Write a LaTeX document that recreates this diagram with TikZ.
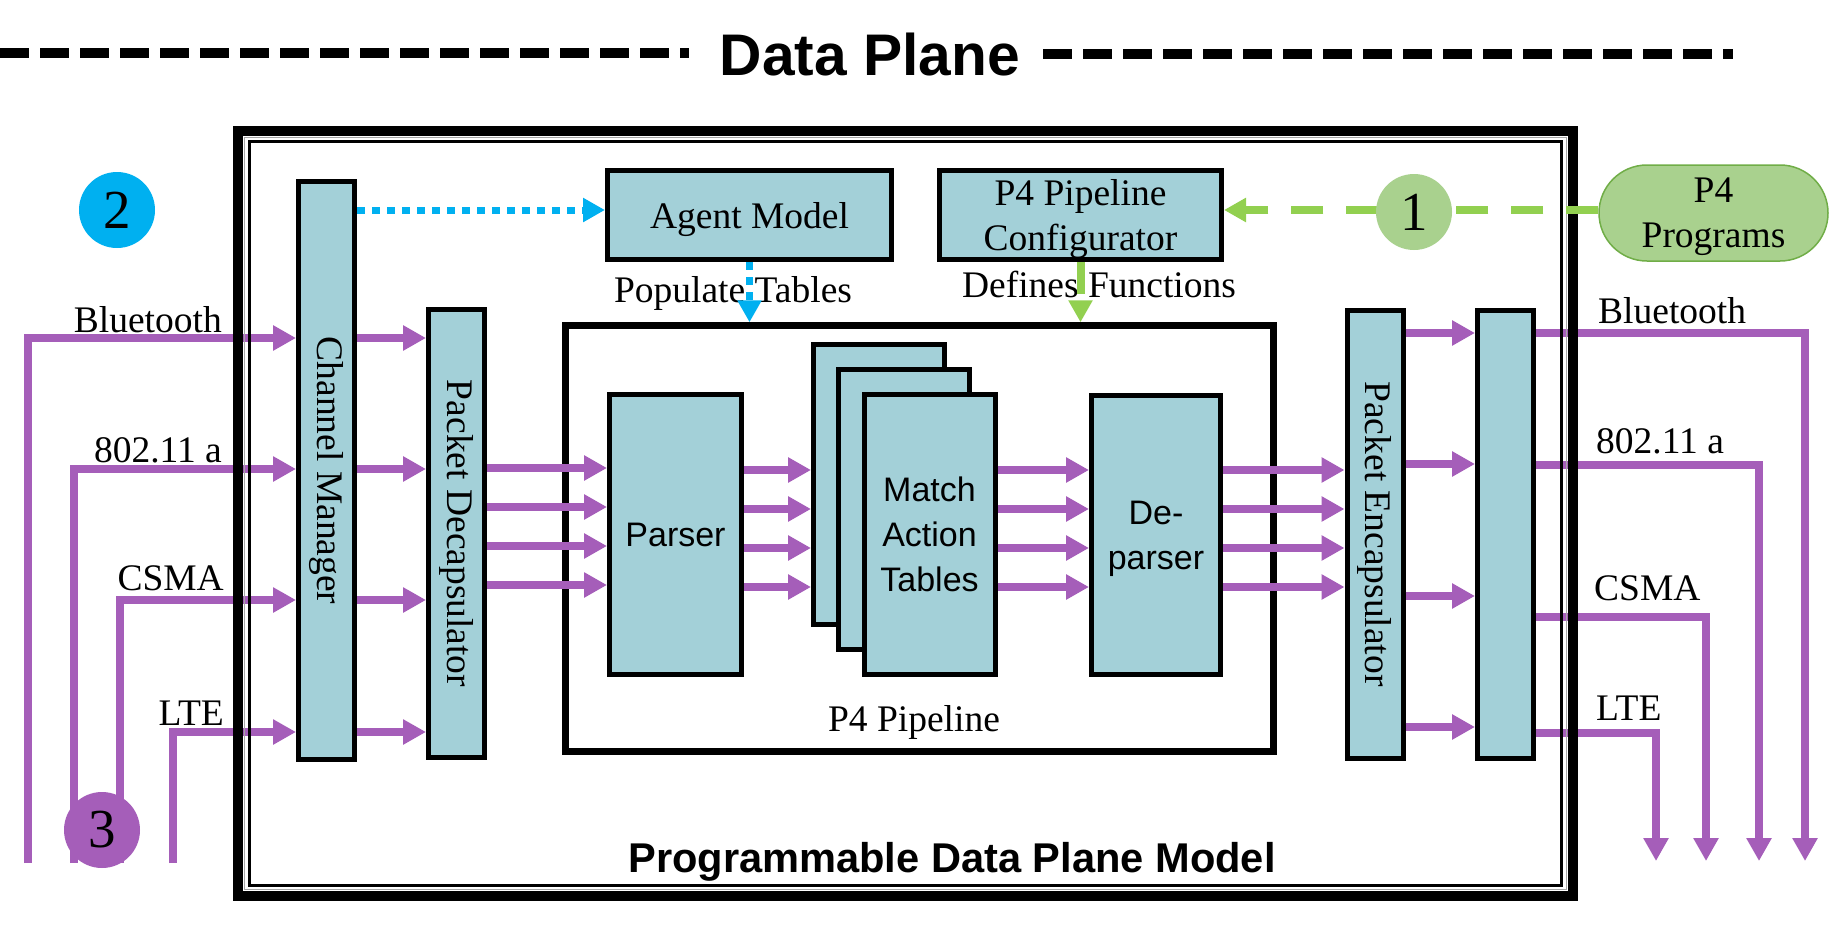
\documentclass[tikz,border=0pt]{standalone}
\usepackage{fontspec}
\setmainfont{Liberation Serif}
\setsansfont{Liberation Sans}
\usetikzlibrary{arrows.meta}

\definecolor{boxblue}{RGB}{163,208,216}
\definecolor{flowpurple}{RGB}{165,94,185}
\definecolor{agentblue}{RGB}{0,176,240}
\definecolor{confgreen}{RGB}{146,208,80}
\definecolor{proggreen}{RGB}{169,209,142}
\definecolor{progedge}{RGB}{112,173,71}

\begin{document}
\begin{tikzpicture}[x=1pt,y=-1pt,
	block/.style={draw, line width=5pt, fill=boxblue, inner sep=0pt, align=center,
		font=\fontsize{37.5}{45}\selectfont},
	sansblock/.style={block, font=\sffamily\fontsize{34}{45}\selectfont},
	tagtext/.style={inner sep=0pt, font=\fontsize{37.5}{45}\selectfont},
	vtext/.style={tagtext, rotate=-90},
	badge/.style={circle, minimum size=76pt, inner sep=0pt, font=\fontsize{55}{60}\selectfont},
	flow/.style={draw=flowpurple, line width=8pt, -{Triangle[length=23pt,width=24pt]}},
	agentdot/.style={draw=agentblue, line width=7pt, dash pattern=on 8pt off 7pt,
		-{Triangle[length=22pt,width=23pt]}},
	confdash/.style={draw=confgreen, line width=8pt, dash pattern=on 32pt off 23pt,
		-{Triangle[length=22pt,width=23pt]}},
	planedash/.style={line width=10pt, dash pattern=on 29pt off 11pt}]
	%\draw[help lines] (0,0) grid[step=100] (1831,937);
	\useasboundingbox (0,0) rectangle (1831,937);
	
	% title
	\node[inner sep=0pt, anchor=base, font=\sffamily\bfseries\fontsize{58.7}{60}\selectfont]
		(title) at (870,75) {Data Plane};
	\coordinate (dashLa) at (0,53);
	\coordinate (dashLb) at (689,53);
	\coordinate (dashRa) at (1043,54);
	\coordinate (dashRb) at (1733,54);
	\draw[planedash] (dashLa) -- (dashLb);
	\draw[planedash] (dashRa) -- (dashRb);
	
	% blocks
	\node[block, minimum width=56pt, minimum height=578pt] (chman) at (326.5,470.5) {};
	\node[block, minimum width=56pt, minimum height=448pt] (decap) at (456.5,533.5) {};
	\node[block, text depth=0pt, minimum width=284pt, minimum height=89pt] (agent) at (749.5,215) {Agent Model};
	\node[block, text depth=0pt, minimum width=282pt, minimum height=89pt] (config) at (1080.5,215) {P4 Pipeline\\Configurator};
	\node[draw, line width=6.5pt, minimum width=708pt, minimum height=426pt] (pipe) at (919.5,538.5) {};
	\node[sansblock, minimum width=132pt, minimum height=280pt] (parser) at (675.5,534.5) {Parser};
	\node[sansblock, minimum width=131pt, minimum height=280pt] (matA) at (879,484.5) {};
	\node[sansblock, minimum width=131pt, minimum height=280pt] (matB) at (904,509.5) {};
	\node[sansblock, minimum width=131pt, minimum height=280pt] (matC) at (929.5,534.5) {Match\\Action\\Tables};
	\node[sansblock, text depth=0pt, minimum width=129pt, minimum height=279pt] (deparser) at (1156,535) {De-\\parser};
	\node[block, minimum width=56pt, minimum height=448pt] (encap) at (1375,534) {};
	\node[block, minimum width=56pt, minimum height=448pt] (mux) at (1505.5,534) {};
	\node[draw=progedge, fill=proggreen, line width=1.5pt, rounded corners=48pt, align=center,
		text depth=-8pt, minimum width=229pt, minimum height=96pt,
		font=\fontsize{37.5}{45}\selectfont] (p4prog) at (1713.5,213) {P4\\Programs};
	
	\node[vtext] (chmantxt) at (chman.center) {Channel Manager};
	\node[vtext] (decaptxt) at (decap.center) {Packet Decapsulator};
	\node[vtext] (encaptxt) at (encap.center) {Packet Encapsulator};
	\node[tagtext, anchor=base] (pipetxt) at (914,731) {P4 Pipeline};
	\node[tagtext, anchor=base] (poptxt) at (733,302) {Populate Tables};
	\node[tagtext, anchor=base] (deftxt) at (1099,297) {Defines Functions};
	
	% packet flow
	\foreach \nm/\x/\y in {BT/28/338, WF/74/469, CS/120/600, LT/173/732}{
		\coordinate (in\nm) at (\x,863);
		\draw[flow] (in\nm) |- (chman.west |- 0,\y);
		\draw[flow] (chman.east |- 0,\y) -- (decap.west |- 0,\y);
	}
	\foreach \y in {468,507,546,585}{
		\draw[flow] (decap.east |- 0,\y) -- (parser.west |- 0,\y);
		\draw[flow] (parser.east |- 0,\y+2) -- (matA.west |- 0,\y+2);
		\draw[flow] (matC.east |- 0,\y+2) -- (deparser.west |- 0,\y+2);
		\draw[flow] (deparser.east |- 0,\y+2) -- (encap.west |- 0,\y+2);
	}
	\foreach \y in {333,464,596,727}
		\draw[flow] (encap.east |- 0,\y) -- (mux.west |- 0,\y);
	\foreach \nm/\x/\y in {BT/1805/333, WF/1759/465, CS/1706/617, LT/1656/733}{
		\coordinate (out\nm) at (\x,861);
		\draw[flow] (mux.east |- 0,\y) -| (out\nm);
	}
	
	\node[tagtext, anchor=base east] (inBTtxt) at (222,332) {Bluetooth};
	\node[tagtext, anchor=base east] (inWFtxt) at (222,462) {802.11 a};
	\node[tagtext, anchor=base east] (inCStxt) at (224,590) {CSMA};
	\node[tagtext, anchor=base east] (inLTtxt) at (224,725) {LTE};
	\node[tagtext, anchor=base west] (outBTtxt) at (1598,323) {Bluetooth};
	\node[tagtext, anchor=base west] (outWFtxt) at (1596,453) {802.11 a};
	\node[tagtext, anchor=base west] (outCStxt) at (1594,600) {CSMA};
	\node[tagtext, anchor=base west] (outLTtxt) at (1596,720) {LTE};
	
	% model frame
	\draw[line width=10pt] (238,131) rectangle (1573,896);
	\draw[line width=1.5pt, black!35] (244.5,137.5) rectangle (1566.5,889.5);
	\draw[line width=3pt] (249.5,141.5) rectangle (1561.5,885.5);
	\node[inner sep=0pt, anchor=base, font=\sffamily\bfseries\fontsize{41.6}{44}\selectfont]
		(dpmtxt) at (952,872) {Programmable Data Plane Model};
	
	% control
	\draw[agentdot] (chman.east |- 0,210) -- (agent.west |- 0,210);
	\draw[agentdot] (agent.south) -- (agent.south |- pipe.north);
	\draw[confdash] (p4prog.west |- 0,210) -- (config.east |- 0,210);
	\draw[confdash] (config.south) -- (config.south |- pipe.north);
	
	\node[badge, fill=agentblue] (st2) at (117,210) {2};
	\node[badge, fill=proggreen] (st1) at (1414,212) {1};
	\node[badge, fill=flowpurple] (st3) at (102,830) {3};
\end{tikzpicture}
\end{document}
